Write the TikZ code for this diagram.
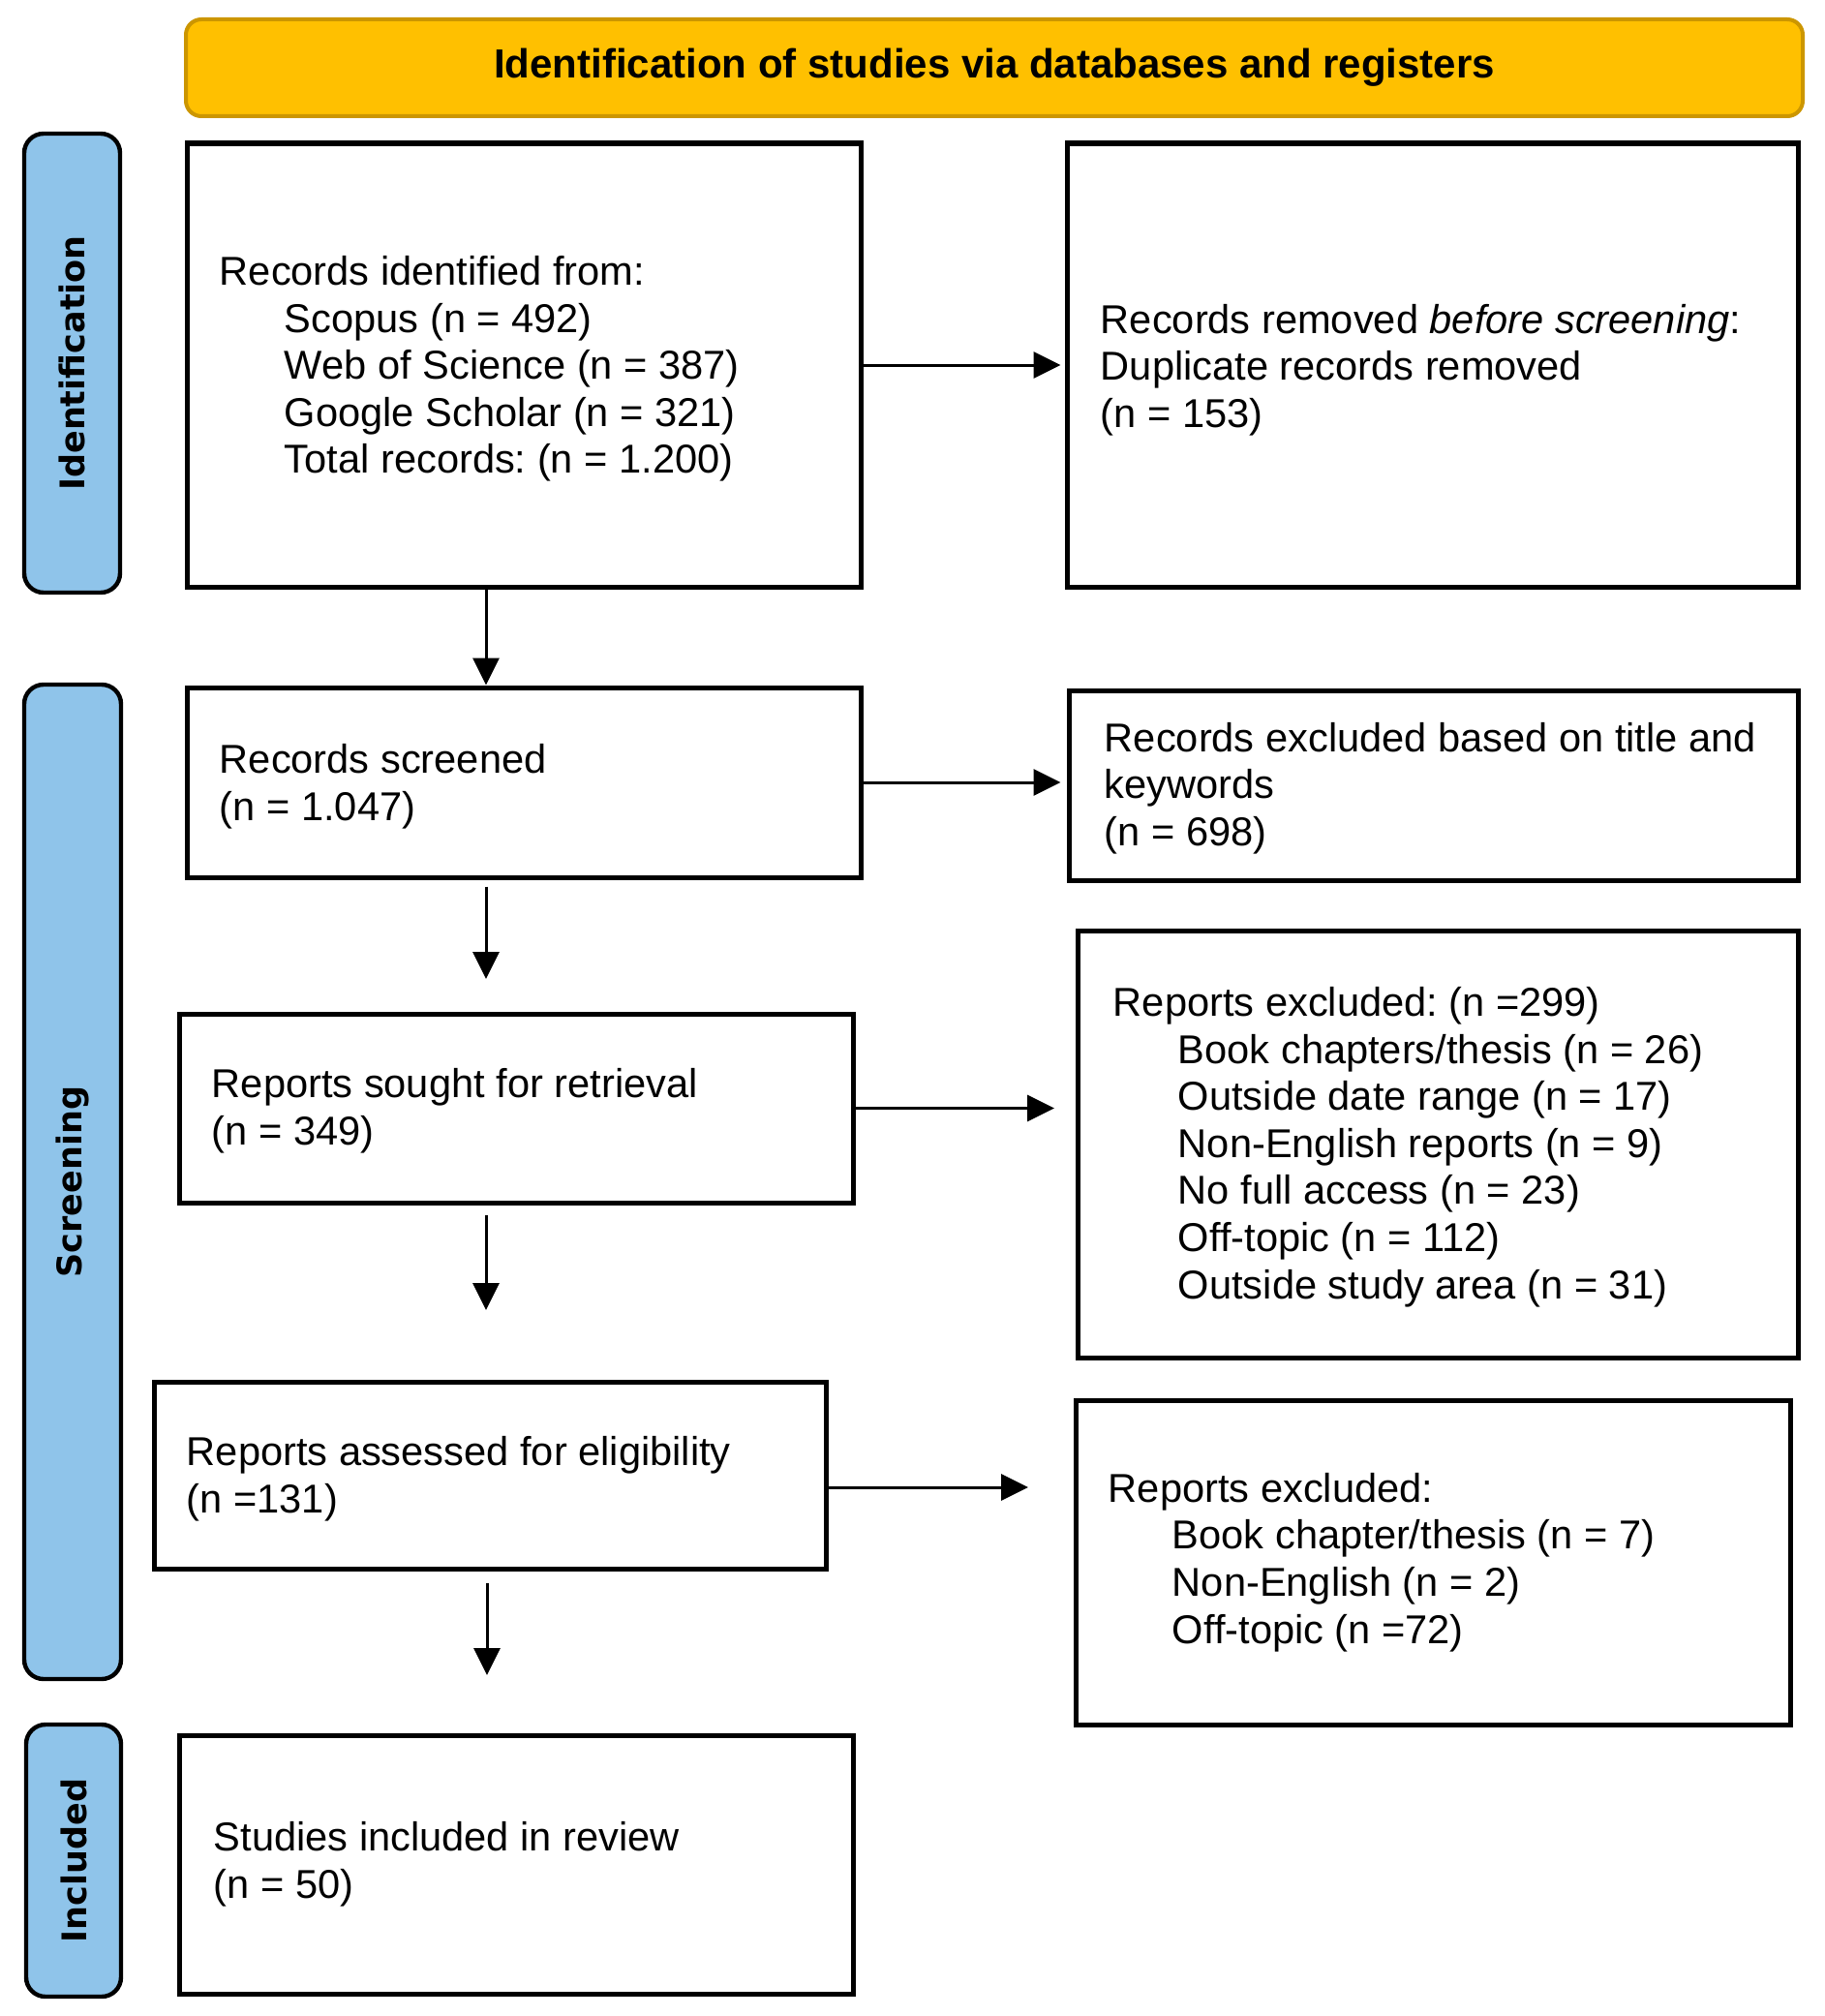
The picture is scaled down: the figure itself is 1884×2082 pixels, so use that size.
\documentclass[tikz,border=0pt]{standalone}
\usepackage{fontspec}
\setmainfont{Liberation Sans}
\newfontfamily\sidefont{DejaVu Sans}
\usetikzlibrary{arrows.meta}
\definecolor{hdrfill}{RGB}{255,192,0}
\definecolor{hdrdraw}{RGB}{204,150,0}
\definecolor{barfill}{RGB}{143,196,234}
\begin{document}
\frenchspacing
\begin{tikzpicture}[x=0.5pt,y=-0.5pt,
  box/.style={draw=black, line width=2.5pt, fill=white, inner sep=0pt},
  txt/.style={inner sep=0pt, align=left, anchor=west, font=\fontsize{20.8}{24.3}\selectfont},
  bar/.style={draw=black, line width=2.2pt, fill=barfill, rounded corners=10pt, inner sep=0pt, rotate=90,
    font=\sidefont\bfseries\fontsize{17.5}{20}\selectfont},
  arr/.style={line width=1.5pt, -{Triangle[length=14pt,width=13.5pt]}}
]
\useasboundingbox (0,0) rectangle (1884,2082);
\fill[white] (0,0) rectangle (1884,2082);

% header
\node[draw=hdrdraw, fill=hdrfill, line width=2pt, rounded corners=8pt, inner sep=0pt,
  minimum width=835pt, minimum height=50pt, font=\bfseries\fontsize{21}{25}\selectfont]
  (hdr) at (1027,70) {Identification of studies via databases and registers};

% side bars
\node[bar, minimum width=237pt, minimum height=49.5pt] (idbar) at (74.5,375) {Identification};
\node[bar, minimum width=513.5pt, minimum height=50pt] (scbar) at (75,1220.5) {Screening};
\node[bar, minimum width=140.5pt, minimum height=49pt] (inbar) at (76,1921.5) {Included};

% boxes
\node[box, minimum width=348pt, minimum height=229pt] (b1) at (541,377) {};
\node[box, minimum width=377.5pt, minimum height=229pt] (b2) at (1479.5,377) {};
\node[box, minimum width=348pt, minimum height=98pt] (b3) at (541,808) {};
\node[box, minimum width=376.5pt, minimum height=98pt] (b4) at (1480.5,811) {};
\node[box, minimum width=348pt, minimum height=97.5pt] (b5) at (533,1144.5) {};
\node[box, minimum width=372pt, minimum height=220.5pt] (b6) at (1485,1181.5) {};
\node[box, minimum width=347pt, minimum height=96.5pt] (b7) at (506,1523.5) {};
\node[box, minimum width=369pt, minimum height=167.5pt] (b8) at (1480,1613.5) {};
\node[box, minimum width=348pt, minimum height=133.5pt] (b9) at (533,1925.5) {};

% texts
\node[txt] (t1) at ([xshift=18pt,yshift=-2pt]b1.west) {Records identified from:\\
  \hspace*{33.5pt}Scopus (n = 492)\\
  \hspace*{33.5pt}Web of Science (n = 387)\\
  \hspace*{33.5pt}Google Scholar (n = 321)\\
  \hspace*{33.5pt}Total records: (n = 1.200)};
\node[txt] (t2) at ([xshift=18.5pt,yshift=-2.5pt]b2.west) {Records removed \textit{before screening}:\\
  Duplicate records removed\\ (n = 153)};
\node[txt] (t3) at ([xshift=18pt,yshift=-2pt]b3.west) {Records screened\\ (n = 1.047)};
\node[txt] (t4) at ([xshift=19.5pt,yshift=-1.5pt]b4.west) {Records excluded based on title and\\ keywords\\ (n = 698)};
\node[txt] (t5) at ([xshift=18pt,yshift=-1.5pt]b5.west) {Reports sought for retrieval\\ (n = 349)};
\node[txt] (t6) at ([xshift=19.5pt,yshift=-1.5pt]b6.west) {Reports excluded: (n =299)\\
  \hspace*{33.5pt}Book chapters/thesis (n = 26)\\
  \hspace*{33.5pt}Outside date range (n = 17)\\
  \hspace*{33.5pt}Non-English reports (n = 9)\\
  \hspace*{33.5pt}No full access (n = 23)\\
  \hspace*{33.5pt}Off-topic (n = 112)\\
  \hspace*{33.5pt}Outside study area (n = 31)};
\node[txt] (t7) at ([xshift=18pt,yshift=-2pt]b7.west) {Reports assessed for eligibility\\ (n =131)};
\node[txt] (t8) at ([xshift=18pt]b8.west) {Reports excluded:\\
  \hspace*{33pt}Book chapter/thesis (n = 7)\\
  \hspace*{33pt}Non-English (n = 2)\\
  \hspace*{33pt}Off-topic (n =72)};
\node[txt] (t9) at ([xshift=19pt]b9.west) {Studies included in review\\ (n = 50)};

% connectors
\coordinate (ax) at (502,0);
\coordinate (a2e) at (502,1011);
\coordinate (a3e) at (502,1353);
\coordinate (a4e) at (503,1730);
\coordinate (e3) at (1089,1145);
\coordinate (e4) at (1062,1536);

\draw[arr, shorten >=2pt] (b1.east) -- (b2.west);
\draw[arr, shorten >=3pt] (b3.east) -- (b3.east -| b4.west);
\draw[arr] (b5.east) -- (b5.east -| e3);
\draw[arr] (b7.east |- e4) -- (e4);

\draw[arr] (b1.south -| ax) -- (b3.north -| ax);
\draw[arr] ([yshift=-3.5pt]b3.south -| ax) -- (a2e);
\draw[arr] ([yshift=-5pt]b5.south -| ax) -- (a3e);
\draw[arr] ([yshift=-6pt]b7.south -| a4e) -- (a4e);
\end{tikzpicture}
\end{document}
